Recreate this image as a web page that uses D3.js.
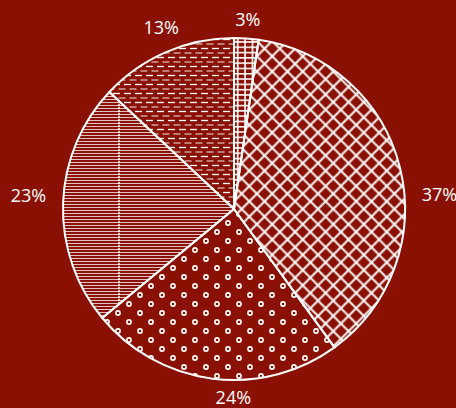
<!DOCTYPE html>
<html>
<head>
<meta charset="utf-8">
<script src="https://cdn.jsdelivr.net/npm/d3@7"></script>
<style>
  html, body { margin: 0; padding: 0; background: #8b1004; }
  svg { display: block; }
  .label { font-family: "Open Sans", sans-serif; font-weight: 400; font-size: 18px; fill: #fff; }
</style>
</head>
<body>
<div id="chart"></div>
<script>
// slice shares (percent), in clockwise order from 12 o'clock
var shares = [2.3, 37.7, 24, 23, 13];
var shareLabels = ["3%", "37%", "24%", "23%", "13%"];
var patternIds = ["grid", "cross", "rings", "hlines", "dashes"];

var svgWidth = 456;
var svgHeight = 408;
var radius = 171;
var cx = 234, cy = 209;
var bg = "#8b1004";

var svg = d3.select("#chart")
  .append("svg")
  .attr("width", svgWidth)
  .attr("height", svgHeight);

svg.append("rect")
  .attr("width", svgWidth)
  .attr("height", svgHeight)
  .attr("fill", bg);

var defs = svg.append("defs");

// small square grid
var p = defs.append("pattern").attr("id", "grid")
  .attr("patternUnits", "userSpaceOnUse")
  .attr("width", 7.4).attr("height", 5.3);
p.append("path").attr("d", "M3.7,0V5.3M0,2.6H7.4")
  .attr("stroke", "#fff").attr("stroke-width", 1.6);

// diagonal crosshatch
p = defs.append("pattern").attr("id", "cross")
  .attr("patternUnits", "userSpaceOnUse")
  .attr("width", 10.8).attr("height", 10.8)
  .attr("patternTransform", "rotate(45)");
p.append("path").attr("d", "M5.4,0V10.8M0,5.4H10.8")
  .attr("stroke", "#fff").attr("stroke-width", 2);

// open rings
p = defs.append("pattern").attr("id", "rings")
  .attr("patternUnits", "userSpaceOnUse")
  .attr("width", 22).attr("height", 18);
[[5, 5], [16, 14]].forEach(function(c) {
  p.append("circle").attr("cx", c[0]).attr("cy", c[1]).attr("r", 2.1)
    .attr("fill", "none").attr("stroke", "#fff").attr("stroke-width", 1.6);
});

// fine horizontal lines (pattern space starts at the pie centre)
p = defs.append("pattern").attr("id", "hlines")
  .attr("patternUnits", "userSpaceOnUse")
  .attr("width", 120).attr("height", 3);
p.append("path").attr("d", "M0,1.5H120")
  .attr("stroke", "#fff").attr("stroke-opacity", 0.75).attr("stroke-width", 1.1);
p.append("path").attr("d", "M5,0V2.2")
  .attr("stroke", "#fff").attr("stroke-width", 1.5);

// staggered dashes
p = defs.append("pattern").attr("id", "dashes")
  .attr("patternUnits", "userSpaceOnUse")
  .attr("width", 11).attr("height", 9);
p.append("path").attr("d", "M0,1.5H7")
  .attr("stroke", "#fff").attr("stroke-width", 1.3);
p.append("path").attr("d", "M5.5,6H12.5M-5.5,6H1.5")
  .attr("stroke", "#fff").attr("stroke-opacity", 0.6).attr("stroke-width", 1.3);

var pie = d3.pie().sort(null).value(d => d);
var arcs = pie(shares);

var arc = d3.arc().innerRadius(0).outerRadius(radius);

var chartGroup = svg.append("g")
  .attr("transform", `translate(${cx}, ${cy})`);

chartGroup.selectAll("path.slice")
  .data(arcs)
  .enter()
  .append("path")
  .attr("class", "slice")
  .attr("d", arc)
  .attr("fill", (d, i) => `url(#${patternIds[i]})`)
  .attr("stroke", "#fff")
  .attr("stroke-width", 2)
  .attr("stroke-linejoin", "round");

// label layout: mid angle, nudged for the two big slices like the original
var labelNudge = [0, 10, -7, 2, 1.5];

chartGroup.selectAll("text.label")
  .data(arcs)
  .enter()
  .append("text")
  .attr("class", "label")
  .attr("text-anchor", "middle")
  .attr("dy", "0.35em")
  .attr("transform", function(d, i) {
    var a = (d.startAngle + d.endAngle) / 2 + labelNudge[i] * Math.PI / 180;
    var r = 189 + 17 * Math.abs(Math.sin(a));
    return `translate(${r * Math.sin(a)}, ${-r * Math.cos(a)})`;
  })
  .text((d, i) => shareLabels[i]);
</script>
</body>
</html>
